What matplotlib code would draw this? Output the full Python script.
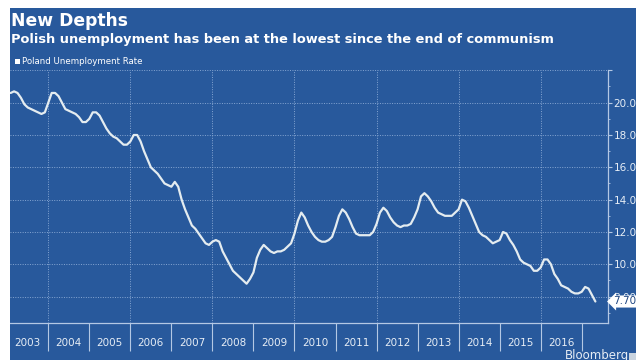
import numpy as np
import matplotlib
matplotlib.use('Agg')
import matplotlib.pyplot as plt
from matplotlib.patches import Rectangle
from matplotlib.ticker import FuncFormatter

# Poland registered unemployment rate (%), monthly, Jan 2003 .. Apr 2017
rate = [
    20.6, 20.7, 20.6, 20.3, 19.9, 19.7, 19.6, 19.5, 19.4, 19.3, 19.4, 20.0,  # 2003
    20.6, 20.6, 20.4, 20.0, 19.6, 19.5, 19.4, 19.3, 19.1, 18.8, 18.8, 19.0,  # 2004
    19.4, 19.4, 19.2, 18.8, 18.4, 18.1, 17.9, 17.8, 17.6, 17.4, 17.4, 17.6,  # 2005
    18.0, 18.0, 17.6, 17.0, 16.5, 16.0, 15.8, 15.6, 15.3, 15.0, 14.9, 14.8,  # 2006
    15.1, 14.8, 14.0, 13.4, 12.9, 12.4, 12.2, 11.9, 11.6, 11.3, 11.2, 11.4,  # 2007
    11.5, 11.4, 10.8, 10.4, 10.0, 9.6, 9.4, 9.2, 9.0, 8.8, 9.1, 9.5,         # 2008
    10.4, 10.9, 11.2, 11.0, 10.8, 10.7, 10.8, 10.8, 10.9, 11.1, 11.3, 11.9,  # 2009
    12.7, 13.2, 12.9, 12.4, 12.0, 11.7, 11.5, 11.4, 11.4, 11.5, 11.7, 12.3,  # 2010
    13.0, 13.4, 13.2, 12.8, 12.3, 11.9, 11.8, 11.8, 11.8, 11.8, 12.0, 12.5,  # 2011
    13.2, 13.5, 13.3, 12.9, 12.6, 12.4, 12.3, 12.4, 12.4, 12.5, 12.9, 13.4,  # 2012
    14.2, 14.4, 14.2, 13.9, 13.5, 13.2, 13.1, 13.0, 13.0, 13.0, 13.2, 13.4,  # 2013
    14.0, 13.9, 13.5, 13.0, 12.5, 12.0, 11.8, 11.7, 11.5, 11.3, 11.4, 11.5,  # 2014
    12.0, 11.9, 11.5, 11.2, 10.8, 10.3, 10.1, 10.0, 9.9, 9.6, 9.6, 9.8,      # 2015
    10.3, 10.3, 10.0, 9.4, 9.1, 8.7, 8.6, 8.5, 8.3, 8.2, 8.2, 8.3,           # 2016
    8.6, 8.5, 8.1, 7.7,                                                      # 2017
]
first_year = 2003
year_labels = list(range(2003, 2017))
last_value = rate[-1]

BLUE = '#28599c'
DARK = '#1f4682'
GRID = '#86a6d2'
AXIS = '#b4c8e4'
TXT = '#e6edf5'
LINE = '#e4ecf0'

W, H = 636, 360

# month-end positions in fractional years
x = first_year + (np.arange(len(rate)) + 1) / 12.0

fig = plt.figure(figsize=(W / 100, H / 100), dpi=100)
fig.patch.set_facecolor(BLUE)
fig.add_artist(Rectangle((0, 1 - 8 / H), 1, 8 / H, transform=fig.transFigure,
                         fc='white', ec='none'))
fig.add_artist(Rectangle((0, 0), 10 / W, 1, transform=fig.transFigure,
                         fc='white', ec='none'))

ax = fig.add_axes([10 / W, 37 / H, 598 / W, 253 / H])
ax.set_facecolor(BLUE)
ax.set_xlim(2003.067, 2017.641)
ax.set_ylim(6.37, 22.02)

for s in ['top', 'left']:
    ax.spines[s].set_visible(False)
ax.spines['right'].set_color(AXIS)
ax.spines['bottom'].set_color(AXIS)
ax.spines['right'].set_linewidth(0.9)
ax.spines['bottom'].set_linewidth(0.9)

# right-hand value axis
ax.yaxis.tick_right()
ax.set_yticks(np.arange(8, 23, 2))
ax.set_yticks(np.arange(7, 23, 2), minor=True)
ax.yaxis.set_major_formatter(FuncFormatter(lambda v, p: '' if v > 21 else f'{v:.2f}'))
ax.tick_params(axis='y', which='major', direction='out', length=3, width=0.8,
               color=AXIS, labelcolor=TXT, labelsize=7.5, pad=1)
ax.tick_params(axis='y', which='minor', direction='out', length=1.5, width=0.6,
               color=AXIS)
ax.grid(axis='y', which='major', color=GRID, lw=0.7, ls=(0, (1, 1.5)))

# year band: separators on the boundaries, labels in the middle
ax.set_xticks(range(2004, 2018))
ax.set_xticklabels([])
ax.set_xticks([y + 0.5 for y in year_labels], minor=True)
ax.set_xticklabels([str(y) for y in year_labels], minor=True)
ax.tick_params(axis='x', which='major', direction='out', length=20, width=0.8,
               color=AXIS)
ax.tick_params(axis='x', which='minor', length=0, labelcolor=TXT, labelsize=7.5,
               pad=11)
for yr in range(2004, 2017, 2):
    ax.axvline(yr, color=GRID, lw=0.7, ls=(0, (1, 1.5)), zorder=0.5)

ax.plot(x, rate, color=LINE, lw=1.6, zorder=3, solid_joinstyle='round',
        solid_capstyle='round')

# last value tag over the axis labels
ax.text(1.009, last_value, f'{last_value:.2f}', transform=ax.get_yaxis_transform(),
        ha='left', va='center', fontsize=7.5, color=DARK, zorder=5,
        bbox=dict(boxstyle='larrow,pad=0.1', fc='white', ec='none'))

fig.text(11 / W, 1 - 26 / H, 'New Depths', fontsize=12.3, fontweight='bold',
         color='white', va='baseline')
fig.text(11 / W, 1 - 43 / H,
         'Polish unemployment has been at the lowest since the end of communism',
         fontsize=9.4, fontweight='bold', color='white', va='baseline')
fig.add_artist(Rectangle((15 / W, 1 - 64 / H), 5 / W, 5 / H, transform=fig.transFigure,
                         fc='white', ec='none'))
fig.text(22 / W, 1 - 61.5 / H, 'Poland Unemployment Rate', fontsize=6.2,
         color='white', va='center')
fig.text(565 / W, 1 - 349 / H, 'Bloomberg', fontsize=8.5, color=TXT, va='top')
fig.add_artist(Rectangle((629 / W, 1 - 360 / H), 7 / W, 7 / H, transform=fig.transFigure,
                         fc='#c9d3df', ec='none'))

fig.savefig('out.png', dpi=100, facecolor=fig.get_facecolor())
